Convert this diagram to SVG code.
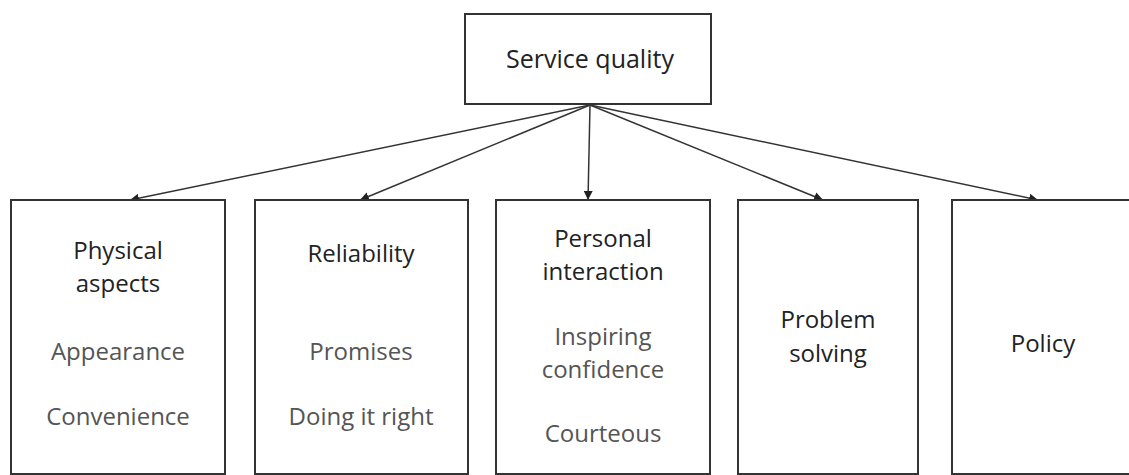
<svg xmlns="http://www.w3.org/2000/svg" width="1129" height="475" viewBox="0 0 1129 475">
<style>
.box{fill:#fff;stroke:#333;stroke-width:2}
.h{font-family:"Open Sans","Noto Sans",sans-serif;font-size:24px;fill:#222;text-anchor:middle}
.i{font-family:"Open Sans","Noto Sans",sans-serif;font-size:24px;fill:#555;text-anchor:middle}
.t{font-size:25px}
.c{stroke:#333;stroke-width:1.5;fill:none;marker-end:url(#ah)}
</style>
<defs>
<marker id="ah" viewBox="0 0 10 10" refX="10" refY="5" markerWidth="9" markerHeight="9" markerUnits="userSpaceOnUse" orient="auto">
<path d="M0,0 L10,5 L0,10 z" fill="#222"/>
</marker>
</defs>
<rect width="1129" height="475" fill="#fff"/>
<g id="connectors">
<line class="c" x1="590" y1="105" x2="130" y2="200"/>
<line class="c" x1="590" y1="105" x2="360" y2="200"/>
<line class="c" x1="590" y1="105" x2="588" y2="200"/>
<line class="c" x1="590" y1="105" x2="823" y2="200"/>
<line class="c" x1="590" y1="105" x2="1038" y2="200"/>
</g>
<g id="service-quality">
<rect class="box" x="465" y="14" width="246" height="90"/>
<text class="h t" x="590" y="68">Service quality</text>
</g>
<g id="physical-aspects">
<rect class="box" x="11" y="200" width="214" height="274"/>
<text class="h" x="118" y="259">Physical</text>
<text class="h" x="118" y="292">aspects</text>
<text class="i" x="118" y="360">Appearance</text>
<text class="i" x="118" y="425">Convenience</text>
</g>
<g id="reliability">
<rect class="box" x="255" y="200" width="213" height="274"/>
<text class="h" x="361" y="262">Reliability</text>
<text class="i" x="361" y="360">Promises</text>
<text class="i" x="361" y="425">Doing it right</text>
</g>
<g id="personal-interaction">
<rect class="box" x="496" y="200" width="214" height="274"/>
<text class="h" x="603" y="247">Personal</text>
<text class="h" x="603" y="280">interaction</text>
<text class="i" x="603" y="345">Inspiring</text>
<text class="i" x="603" y="378">confidence</text>
<text class="i" x="603" y="442">Courteous</text>
</g>
<g id="problem-solving">
<rect class="box" x="738" y="200" width="180" height="274"/>
<text class="h" x="828" y="328">Problem</text>
<text class="h" x="828" y="362">solving</text>
</g>
<g id="policy">
<rect class="box" x="952" y="200" width="180" height="274"/>
<text class="h" x="1043" y="352">Policy</text>
</g>
</svg>
